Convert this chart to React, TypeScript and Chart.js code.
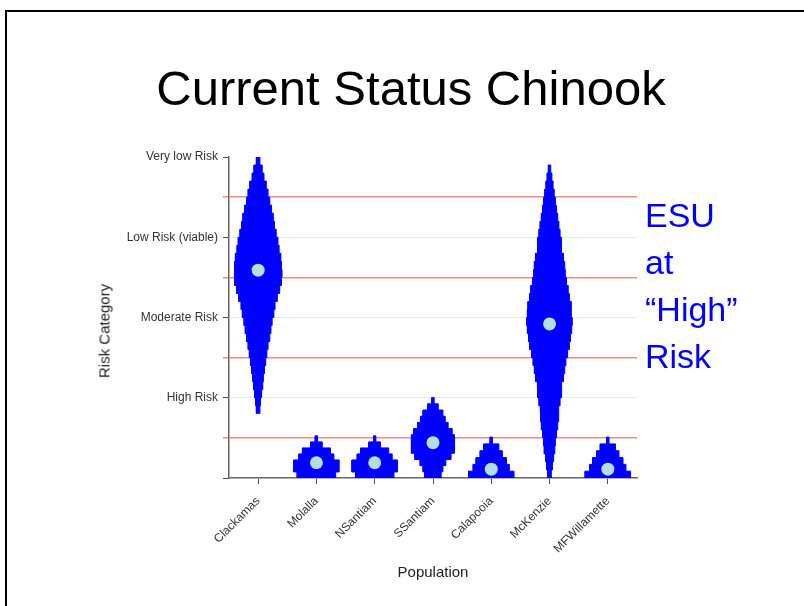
import React, { useEffect, useRef } from 'react';
import { Chart, registerables } from 'chart.js';

Chart.register(...registerables);

const FONT = "Arial, 'Liberation Sans', sans-serif";

const categories = ['Clackamas', 'Molalla', 'NSantiam', 'SSantiam', 'Calapooia', 'McKenzie', 'MFWillamette'];
const riskLabels = ['', 'High Risk', 'Moderate Risk', 'Low Risk (viable)', 'Very low Risk'];
const medians = [2.59, 0.19, 0.19, 0.44, 0.11, 1.92, 0.11];

// bottom of each violin, height of one density step (risk units)
const violinBase = [0.8, 0, 0, 0, 0, 0, 0];
const violinStep = [0.1, 0.075, 0.075, 0.077, 0.085, 0.1, 0.085];

// half-widths of each step, bottom to top (category units)
const clackamasWidths = [0.03, 0.04, 0.06, 0.08, 0.09, 0.11, 0.13, 0.15, 0.17, 0.2, 0.22, 0.24, 0.27, 0.29, 0.33, 0.37, 0.4, 0.41, 0.4, 0.39, 0.36, 0.34, 0.31, 0.28, 0.26, 0.23, 0.2, 0.17, 0.14, 0.1, 0.07, 0.03];
const molallaWidths = [0.33, 0.39, 0.39, 0.3, 0.24, 0.1, 0.02];
const nsantiamWidths = [0.33, 0.39, 0.39, 0.3, 0.24, 0.1, 0.02];
const ssantiamWidths = [0.14, 0.17, 0.22, 0.31, 0.37, 0.37, 0.37, 0.33, 0.26, 0.21, 0.17, 0.09, 0.02];
const calapooiaWidths = [0.39, 0.31, 0.26, 0.19, 0.13, 0.02];
const mckenzieWidths = [0.03, 0.05, 0.07, 0.09, 0.1, 0.12, 0.14, 0.15, 0.16, 0.18, 0.2, 0.21, 0.24, 0.26, 0.28, 0.31, 0.34, 0.36, 0.38, 0.39, 0.38, 0.37, 0.34, 0.32, 0.29, 0.27, 0.26, 0.24, 0.21, 0.2, 0.18, 0.16, 0.14, 0.12, 0.1, 0.08, 0.06, 0.04, 0.02];
const mfwillametteWidths = [0.39, 0.31, 0.26, 0.19, 0.13, 0.02];

const violinWidths = [clackamasWidths, molallaWidths, nsantiamWidths, ssantiamWidths, calapooiaWidths, mckenzieWidths, mfwillametteWidths];

function violinOutline(i: number) {
  const c = i + 1;
  const base = violinBase[i];
  const step = violinStep[i];
  const right: { x: number; y: number }[] = [];
  const left: { x: number; y: number }[] = [];
  violinWidths[i].forEach((hw, k) => {
    const y0 = base + k * step;
    const y1 = y0 + step;
    right.push({ x: c + hw, y: y0 }, { x: c + hw, y: y1 });
    left.unshift({ x: c - hw, y: y1 }, { x: c - hw, y: y0 });
  });
  return [...right, ...left];
}

export default function App() {
  const canvasRef = useRef<HTMLCanvasElement | null>(null);

  useEffect(() => {
    if (!canvasRef.current) return;
    const violinSets = categories.map((name, i) => ({
      label: name,
      data: violinOutline(i),
      showLine: true,
      fill: 'shape',
      backgroundColor: '#0000FF',
      borderColor: '#0000FF',
      borderWidth: 1,
      pointRadius: 0,
      tension: 0,
      order: 2,
    }));
    const chart = new Chart(canvasRef.current, {
      type: 'scatter',
      data: {
        datasets: [
          {
            label: 'Median',
            data: medians.map((m, i) => ({ x: i + 1, y: m })),
            pointRadius: 6.5,
            pointBackgroundColor: '#B0E0E6',
            pointBorderWidth: 0,
            showLine: false,
            order: 1,
          } as any,
          ...(violinSets as any[]),
        ],
      },
      options: {
        responsive: false,
        animation: false,
        events: [],
        layout: { padding: { left: 120, top: 157, right: 167, bottom: 20 } },
        plugins: { legend: { display: false }, tooltip: { enabled: false } },
        scales: {
          x: {
            type: 'linear',
            min: 0.5,
            max: 7.5,
            afterBuildTicks: (axis: any) => {
              axis.ticks = categories.map((_, i) => ({ value: i + 1 }));
            },
            afterFit: (s: any) => {
              s.height = 108;
            },
            ticks: {
              autoSkip: false,
              minRotation: 45,
              maxRotation: 45,
              padding: 10,
              color: '#333',
              font: { family: FONT, size: 12 },
              callback: (v: any) => categories[Math.round(Number(v)) - 1] ?? '',
            },
            grid: { drawOnChartArea: false, tickLength: 6, tickColor: '#555' },
            border: { color: '#666', width: 1.5 },
            title: {
              display: true,
              text: 'Population',
              color: '#222',
              font: { family: FONT, size: 15 },
              padding: { top: 4, bottom: 4 },
            },
          },
          y: {
            type: 'linear',
            min: 0,
            max: 4,
            afterBuildTicks: (axis: any) => {
              const t = [];
              for (let k = 0; k <= 8; k++) t.push({ value: k / 2 });
              axis.ticks = t;
            },
            afterFit: (s: any) => {
              s.width = 109;
            },
            ticks: {
              padding: 5,
              color: '#333',
              font: { family: FONT, size: 12 },
              callback: (v: any) => (Number.isInteger(Number(v)) ? riskLabels[Number(v)] : ''),
            },
            grid: {
              tickLength: 6,
              lineWidth: (ctx: any) => {
                const v = ctx.tick ? ctx.tick.value : 0;
                return Number.isInteger(v) ? 1 : 1.5;
              },
              color: (ctx: any) => {
                const v = ctx.tick ? ctx.tick.value : 0;
                if (!Number.isInteger(v)) return '#f08a8a';
                if (v === 0 || v === 4) return 'rgba(0,0,0,0)';
                return 'rgba(180,225,180,0.45)';
              },
              tickColor: (ctx: any) => {
                const v = ctx.tick ? ctx.tick.value : 0;
                return Number.isInteger(v) ? '#555' : '#f08a8a';
              },
            },
            border: { color: '#666', width: 1.5 },
          },
        },
      } as any,
    });
    return () => chart.destroy();
  }, []);

  return (
    <div style={{ position: 'fixed', left: 0, top: 0, width: 804, height: 606, overflow: 'hidden', background: '#fff' }}>
      <div style={{ position: 'absolute', left: 5, top: 10, width: 900, height: 700, border: '2px solid #000' }} />
      <canvas ref={canvasRef} width={804} height={606} style={{ position: 'absolute', left: 0, top: 0 }} />
      <div
        style={{
          position: 'absolute',
          left: 0,
          width: 822,
          top: 64,
          textAlign: 'center',
          fontFamily: FONT,
          fontSize: 49,
          lineHeight: '49px',
          color: '#000',
          whiteSpace: 'nowrap',
        }}
      >
        Current Status Chinook
      </div>
      <div
        style={{
          position: 'absolute',
          left: 645,
          top: 192,
          fontFamily: FONT,
          fontSize: 34,
          lineHeight: '47px',
          color: '#0000FF',
          whiteSpace: 'nowrap',
        }}
      >
        <div>ESU</div>
        <div>at</div>
        <div>“High”</div>
        <div>Risk</div>
      </div>
      <div
        style={{
          position: 'absolute',
          left: 104,
          top: 331,
          transform: 'translate(-50%, -50%) rotate(-90deg)',
          fontFamily: FONT,
          fontSize: 15,
          color: '#222',
          whiteSpace: 'nowrap',
        }}
      >
        Risk Category
      </div>
    </div>
  );
}
